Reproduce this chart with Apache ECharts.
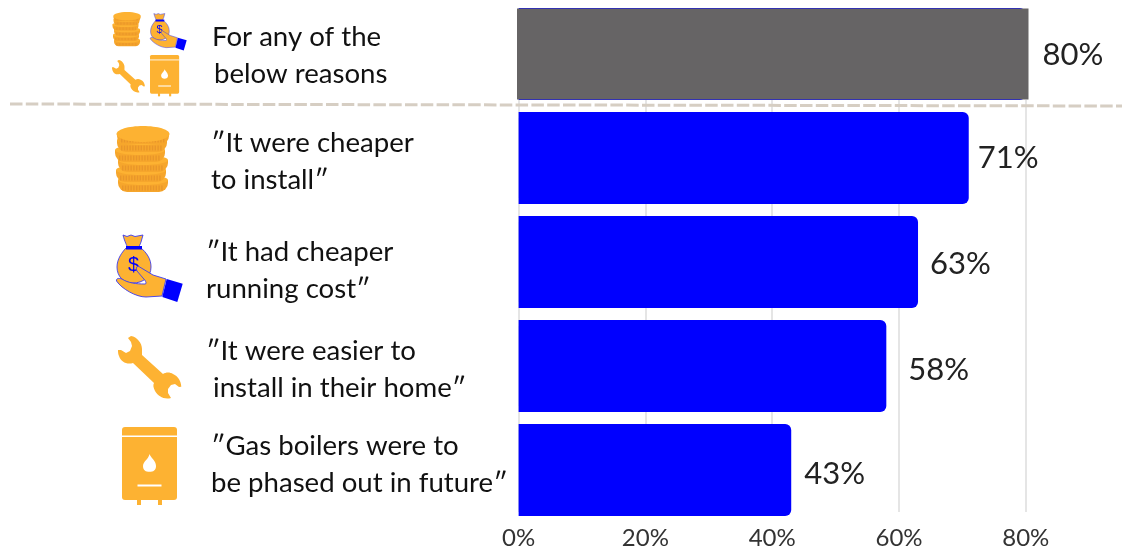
<!DOCTYPE html>
<html>
<head>
<meta charset="utf-8">
<style>html,body{margin:0;padding:0;background:#fff}#chart{width:1122px;height:550px}</style>
<script src="https://cdn.jsdelivr.net/npm/echarts@6/dist/echarts.min.js"></script>
</head>
<body>
<div id="chart"></div>
<script>
// Survey reasons, top to bottom
const categories = [
  'For any of the\nbelow reasons',
  '″It were cheaper\nto install″',
  '″It had cheaper\nrunning cost″',
  '″It were easier to\n install in their home″',
  '″Gas boilers were to\nbe phased out in future″'
];
const anyReasonValues = [80];
const reasonValues = [80, 71, 63, 58, 43];
const xTicks = [0, 20, 40, 60, 80];

// Layout of the two-line captions and value labels
const FONT = 'Lato, "Noto Sans", sans-serif';
const captionPos = [
  [[212, 37], [214, 74]],
  [[211, 143], [211, 180]],
  [[206, 252], [206, 289]],
  [[206, 351], [206, 388]],
  [[211, 446], [211, 483]]
];
const labelGap = [14, 9, 12, 22, 13];
const labelShift = [1, 0, 2, 4, 4];

const ORANGE = '#FDB232';
const ORANGE_EDGE = '#F6A62C';
const ORANGE_DARK = '#E9962A';
const BLUE = '#0000FF';
const GREY = '#666465';

// Outline shapes used by the icons
echarts.graphic.registerShape('bagNeck', echarts.graphic.extendPath('M7 1 L11 2.5 L15 1 L19 2.5 L27 1 L25 8 C24 11 23 12 23 13 L11 13 C11 11 9 9 7 1 Z'));
echarts.graphic.registerShape('bagBody', echarts.graphic.extendPath('M11 13 L24 13 C31 19 35 25 35 33 C35 43 27 49 17 49 C7 49 1 42 1 33 C1 25 6 18 11 13 Z'));
echarts.graphic.registerShape('bagHand', echarts.graphic.extendPath('M22 32 L37 41 L50 45 L46 62 L30 63 C20 63 6 55 0.5 47 C0 44 3 44 6 45 C12 49 20 50 29 50 C31 50 30 47 27 44 L21 37 C20 35 20 33 22 32 Z'));
echarts.graphic.registerShape('flame', echarts.graphic.extendPath('M7 0 C8 4 14 8 14 14 C14 19 11 21 7 21 C3 21 0 19 0 14 C0 9 6 6 7 0 Z'));
echarts.graphic.registerShape('wrench', echarts.graphic.extendPath('M13 0 C19 1 24 7 24 13 C24 16 24 18 24 19 L45 38 C48 36 52 36 55 38 C60 40 63 45 63.3 50.7 L61 51 L57 48 L53 49 L50 53 L50 57 L53 62 C46 64 40 60 37 55 C35 51 35 49 36 47 L15 27 C9 29 3 26 1 20 C0 18 0 16 0 14 L3 14 L8 17 L12 15 L14 10 L13 6 L10 2 Z'));

// Icons: each is a group drawn in its own local box
function coinsIcon(x, y, s) {
  const coins = [[27, 57], [25, 47], [27, 37], [24, 27], [26, 17]];
  const children = [];
  coins.forEach(function (c) {
    children.push({ type: 'rect', shape: { x: c[0] - 25, y: c[1] - 3, width: 50, height: 12, r: [0, 0, 9, 9] }, style: { fill: ORANGE_EDGE } });
    children.push({ type: 'line', shape: { x1: c[0] - 21, y1: c[1] + 5, x2: c[0] + 21, y2: c[1] + 5 }, style: { stroke: ORANGE_DARK, lineWidth: 5, lineDash: [1.4, 1.4] } });
    children.push({ type: 'ellipse', shape: { cx: c[0], cy: c[1] - 3, rx: 25, ry: 5 }, style: { fill: ORANGE } });
  });
  children.push({ type: 'rect', shape: { x: 1, y: 9, width: 52, height: 9, r: [0, 0, 8, 8] }, style: { fill: ORANGE_EDGE } });
  children.push({ type: 'line', shape: { x1: 5, y1: 14, x2: 49, y2: 14 }, style: { stroke: ORANGE_DARK, lineWidth: 5, lineDash: [1.4, 1.4] } });
  children.push({ type: 'ellipse', shape: { cx: 27, cy: 8, rx: 26.5, ry: 8 }, style: { fill: ORANGE } });
  return { type: 'group', x: x, y: y, scaleX: s, scaleY: s, silent: true, children: children };
}

function bagIcon(x, y, s) {
  const edge = { stroke: '#3b3bf0', lineWidth: 0.9 };
  const children = [
    { type: 'bagNeck', style: Object.assign({ fill: ORANGE }, edge) },
    { type: 'bagBody', style: Object.assign({ fill: ORANGE }, edge) },
    { type: 'rect', shape: { x: 10, y: 12, width: 16, height: 3.5 }, style: { fill: BLUE } },
    { type: 'text', style: { x: 17.5, y: 31, text: '$', fill: BLUE, font: '20px "Liberation Sans", sans-serif', align: 'center', verticalAlign: 'middle' } },
    { type: 'bagHand', style: Object.assign({ fill: ORANGE }, edge) },
    { type: 'polygon', shape: { points: [[50.7, 45], [66.7, 49.7], [61.3, 68], [46.3, 63]] }, style: { fill: BLUE } }
  ];
  return { type: 'group', x: x, y: y, scaleX: s, scaleY: s, silent: true, children: children };
}

function wrenchIcon(x, y, s) {
  return { type: 'group', x: x, y: y, scaleX: s, scaleY: s, silent: true, children: [
    { type: 'wrench', style: { fill: ORANGE } }
  ] };
}

function boilerIcon(x, y, s) {
  const children = [
    { type: 'rect', shape: { x: 15, y: 70, width: 4, height: 8 }, style: { fill: ORANGE } },
    { type: 'rect', shape: { x: 36, y: 70, width: 4, height: 8 }, style: { fill: ORANGE } },
    { type: 'rect', shape: { x: 0, y: 0, width: 55, height: 73, r: 3 }, style: { fill: ORANGE } },
    { type: 'rect', shape: { x: 0, y: 8.5, width: 55, height: 1.6 }, style: { fill: '#fff' } },
    { type: 'flame', x: 21, y: 27, scaleX: 0.93, scaleY: 0.85, style: { fill: '#fff' } },
    { type: 'rect', shape: { x: 15.5, y: 57.5, width: 24, height: 2 }, style: { fill: '#fff' } }
  ];
  return { type: 'group', x: x, y: y, scaleX: s, scaleY: s, silent: true, children: children };
}

// Caption lines come straight from the category names
const captionElements = [];
categories.forEach(function (name, i) {
  name.split('\n').forEach(function (line, j) {
    captionElements.push({
      type: 'text', silent: true, x: captionPos[i][j][0], y: captionPos[i][j][1],
      style: { text: line, fill: '#111', font: '27.6px ' + FONT, verticalAlign: 'middle', align: 'left' }
    });
  });
});

const chart = echarts.init(document.getElementById('chart'), null, { renderer: 'canvas' });
const itemLabel = function (i) {
  return {
    show: true, position: 'right', distance: labelGap[i], offset: [0, labelShift[i]],
    formatter: '{c}%', fontFamily: FONT, fontSize: 31, color: '#222'
  };
};

chart.setOption({
  animation: false,
  backgroundColor: '#fff',
  grid: [
    { left: 518.6, width: 507.2, top: 100, height: 416 },
    { left: 518.6, width: 507.2, top: 2, height: 520 },
    { left: 517, width: 511.5, top: 8.5, height: 91 }
  ],
  xAxis: [
    {
      gridIndex: 0, type: 'value', min: 0, max: 80, interval: 20,
      axisLine: { show: false }, axisTick: { show: false },
      splitLine: { show: true, lineStyle: { color: '#dcdcdc', width: 1.5 } },
      axisLabel: { margin: 14, fontFamily: FONT, fontSize: 24, color: '#333', formatter: '{value}%',
        customValues: xTicks }
    },
    { gridIndex: 1, type: 'value', min: 0, max: 80, show: false },
    { gridIndex: 2, type: 'value', min: 0, max: 80, show: false }
  ],
  yAxis: [
    { gridIndex: 0, type: 'category', data: [''], show: false },
    { gridIndex: 1, type: 'category', inverse: true, data: categories, axisLine: { show: false }, axisTick: { show: false }, axisLabel: { show: false } },
    { gridIndex: 2, type: 'category', data: [categories[0]], show: false }
  ],
  series: [
    {
      name: 'Reason', type: 'bar', xAxisIndex: 1, yAxisIndex: 1, barWidth: 92,
      data: reasonValues.map(function (v, i) {
        return { value: v, label: i === 0 ? { show: false } : itemLabel(i) };
      }),
      itemStyle: { color: BLUE, borderRadius: [0, 6, 6, 0] }
    },
    {
      name: 'Any reason', type: 'bar', xAxisIndex: 2, yAxisIndex: 2, barWidth: '100%',
      data: anyReasonValues.map(function (v, i) { return { value: v, label: itemLabel(i) }; }),
      itemStyle: { color: GREY }
    }
  ],
  graphic: [
    { type: 'line', silent: true, z: 10, shape: { x1: 10, y1: 104, x2: 1122, y2: 106 },
      style: { stroke: '#D6CEC3', lineWidth: 3, lineDash: [12.5, 3.3] } },
    coinsIcon(113, 12, 0.52), bagIcon(150, 13, 0.55), wrenchIcon(112, 60, 0.52), boilerIcon(150, 55, 0.53),
    coinsIcon(116, 126, 1), bagIcon(116, 234, 1), wrenchIcon(118, 336, 1), boilerIcon(122, 427, 1)
  ].concat(captionElements)
});
</script>
</body>
</html>
